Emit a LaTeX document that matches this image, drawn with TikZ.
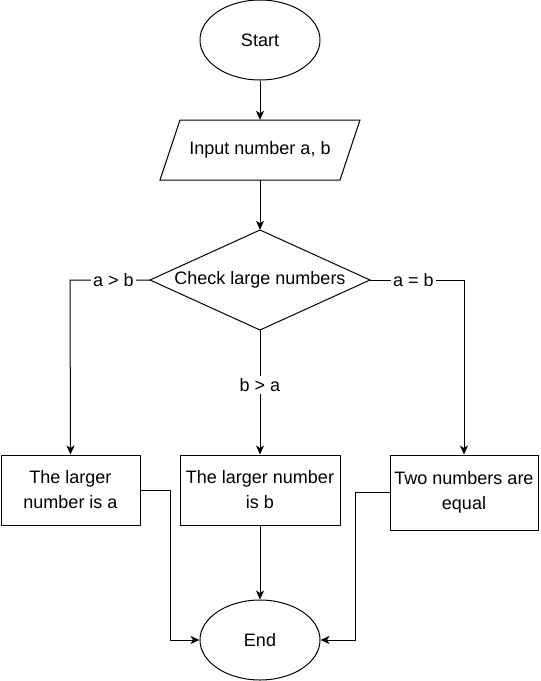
\documentclass[tikz,border=0pt]{standalone}
\usepackage{fontspec}
\setmainfont{Liberation Sans}
\usetikzlibrary{shapes.geometric,arrows.meta}
\begin{document}
\begin{tikzpicture}[x=1pt,y=-1pt,
  every node/.style={font=\fontsize{18}{25}\selectfont, inner sep=0pt},
  term/.style={ellipse, draw, line width=1pt, minimum width=120pt, minimum height=80pt},
  procbox/.style={rectangle, draw, line width=1pt, align=center},
  ghost/.style={rectangle, draw=none},
  conn/.style={line width=1pt, -{Stealth[length=9pt,width=8pt,inset=2.5pt]}},
  elabel/.style={fill=white, inner sep=2pt}
]
\useasboundingbox (0,0) rectangle (541,681);
\fill[white] (0,0) rectangle (541,681);

\node[term] (start) at (260,40) {Start};

\draw[line width=1pt] (180,120) -- (360,120) -- (340,180) -- (160,180) -- cycle;
\node[ghost, minimum width=200pt, minimum height=60pt] (input) at (260,150) {Input number a, b};

\draw[line width=1pt] (260,230) -- (370,280) -- (260,330) -- (150,280) -- cycle;
\node[ghost, minimum width=220pt, minimum height=100pt] (check) at (260,280) {Check large numbers};

\node[procbox, minimum width=139pt, minimum height=70pt] (ba) at (70.5,490) {The larger\\number is a};
\node[procbox, minimum width=160pt, minimum height=70pt] (bb) at (260,490) {The larger number\\is b};
\node[procbox, minimum width=148pt, minimum height=75pt] (be) at (464,492.5) {Two numbers are\\equal};

\node[term] (end) at (260,640) {End};

\coordinate (lc) at (70,280);
\coordinate (rc) at (464,280);
\coordinate (la) at (170,490);
\coordinate (lb) at (170,640);
\coordinate (ra) at (355,492.5);
\coordinate (rb) at (355,640);

\draw[conn] (start.south) -- (input.north);
\draw[conn] (input.south) -- (check.north);
\draw[conn] (check.west) -- (lc) -- (ba.north);
\draw[conn] (check.east) -- (rc) -- (be.north);
\draw[conn] (check.south) -- (bb.north);
\draw[conn] (ba.east) -- (la) -- (lb) -- (end.west);
\draw[conn] (be.west) -- (ra) -- (rb) -- (end.east);
\draw[conn] (bb.south) -- (end.north);

\node[elabel] (lab1) at (113.5,280) {a > b};
\node[elabel] (lab2) at (413.5,280) {a = b};
\node[elabel] (lab3) at (260,385) {b > a};
\end{tikzpicture}
\end{document}
